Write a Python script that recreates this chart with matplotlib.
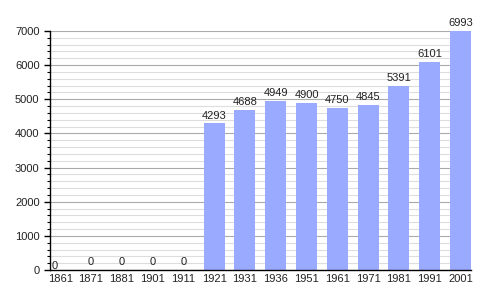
import numpy as np
import matplotlib
matplotlib.use("Agg")
import matplotlib.pyplot as plt
from matplotlib.ticker import MultipleLocator

years = ["1861", "1871", "1881", "1901", "1911", "1921", "1931",
         "1936", "1951", "1961", "1971", "1981", "1991", "2001"]
population = [0, 0, 0, 0, 0, 4293, 4688, 4949, 4900, 4750, 4845, 5391, 6101, 6993]

plt.rcParams['font.family'] = ['Liberation Sans', 'DejaVu Sans']

fig = plt.figure(figsize=(5, 3), dpi=100)
ax = fig.add_axes([0.1, 0.1, 0.842, 0.797])

x = np.arange(len(years))
ax.bar(x, population, width=0.68, color='#99aaff', zorder=2)

for i, v in enumerate(population):
    if i == 0:
        # first label sits on the axis corner
        ax.annotate(str(v), xy=(-0.33, v), xytext=(1, -1), textcoords='offset points',
                    ha='left', va='bottom', fontsize=8, color='#222222')
    else:
        ax.annotate(str(v), xy=(i, v), xytext=(0, 2), textcoords='offset points',
                    ha='center', va='bottom', fontsize=8, color='#222222')

ax.set_xlim(-0.33, 13.34)
ax.set_ylim(0, 7000)
ax.set_xticks(x)
ax.set_xticklabels(years)
ax.yaxis.set_major_locator(MultipleLocator(1000))
ax.yaxis.set_minor_locator(MultipleLocator(200))
ax.grid(axis='y', which='major', color='#aaaaaa', linewidth=0.8, zorder=0)
ax.grid(axis='y', which='minor', color='#dddddd', linewidth=0.8, zorder=0)
ax.set_axisbelow(True)

for s in ['top', 'right']:
    ax.spines[s].set_visible(False)
ax.spines['left'].set_linewidth(1.0)
ax.spines['bottom'].set_linewidth(1.0)
ax.tick_params(axis='x', length=0, pad=3, labelsize=8, labelcolor='#222222')
ax.tick_params(axis='y', which='major', length=4, width=1, labelsize=8, labelcolor='#222222')
ax.tick_params(axis='y', which='minor', length=2, width=0.8)

fig.savefig("out.png", dpi=100)
